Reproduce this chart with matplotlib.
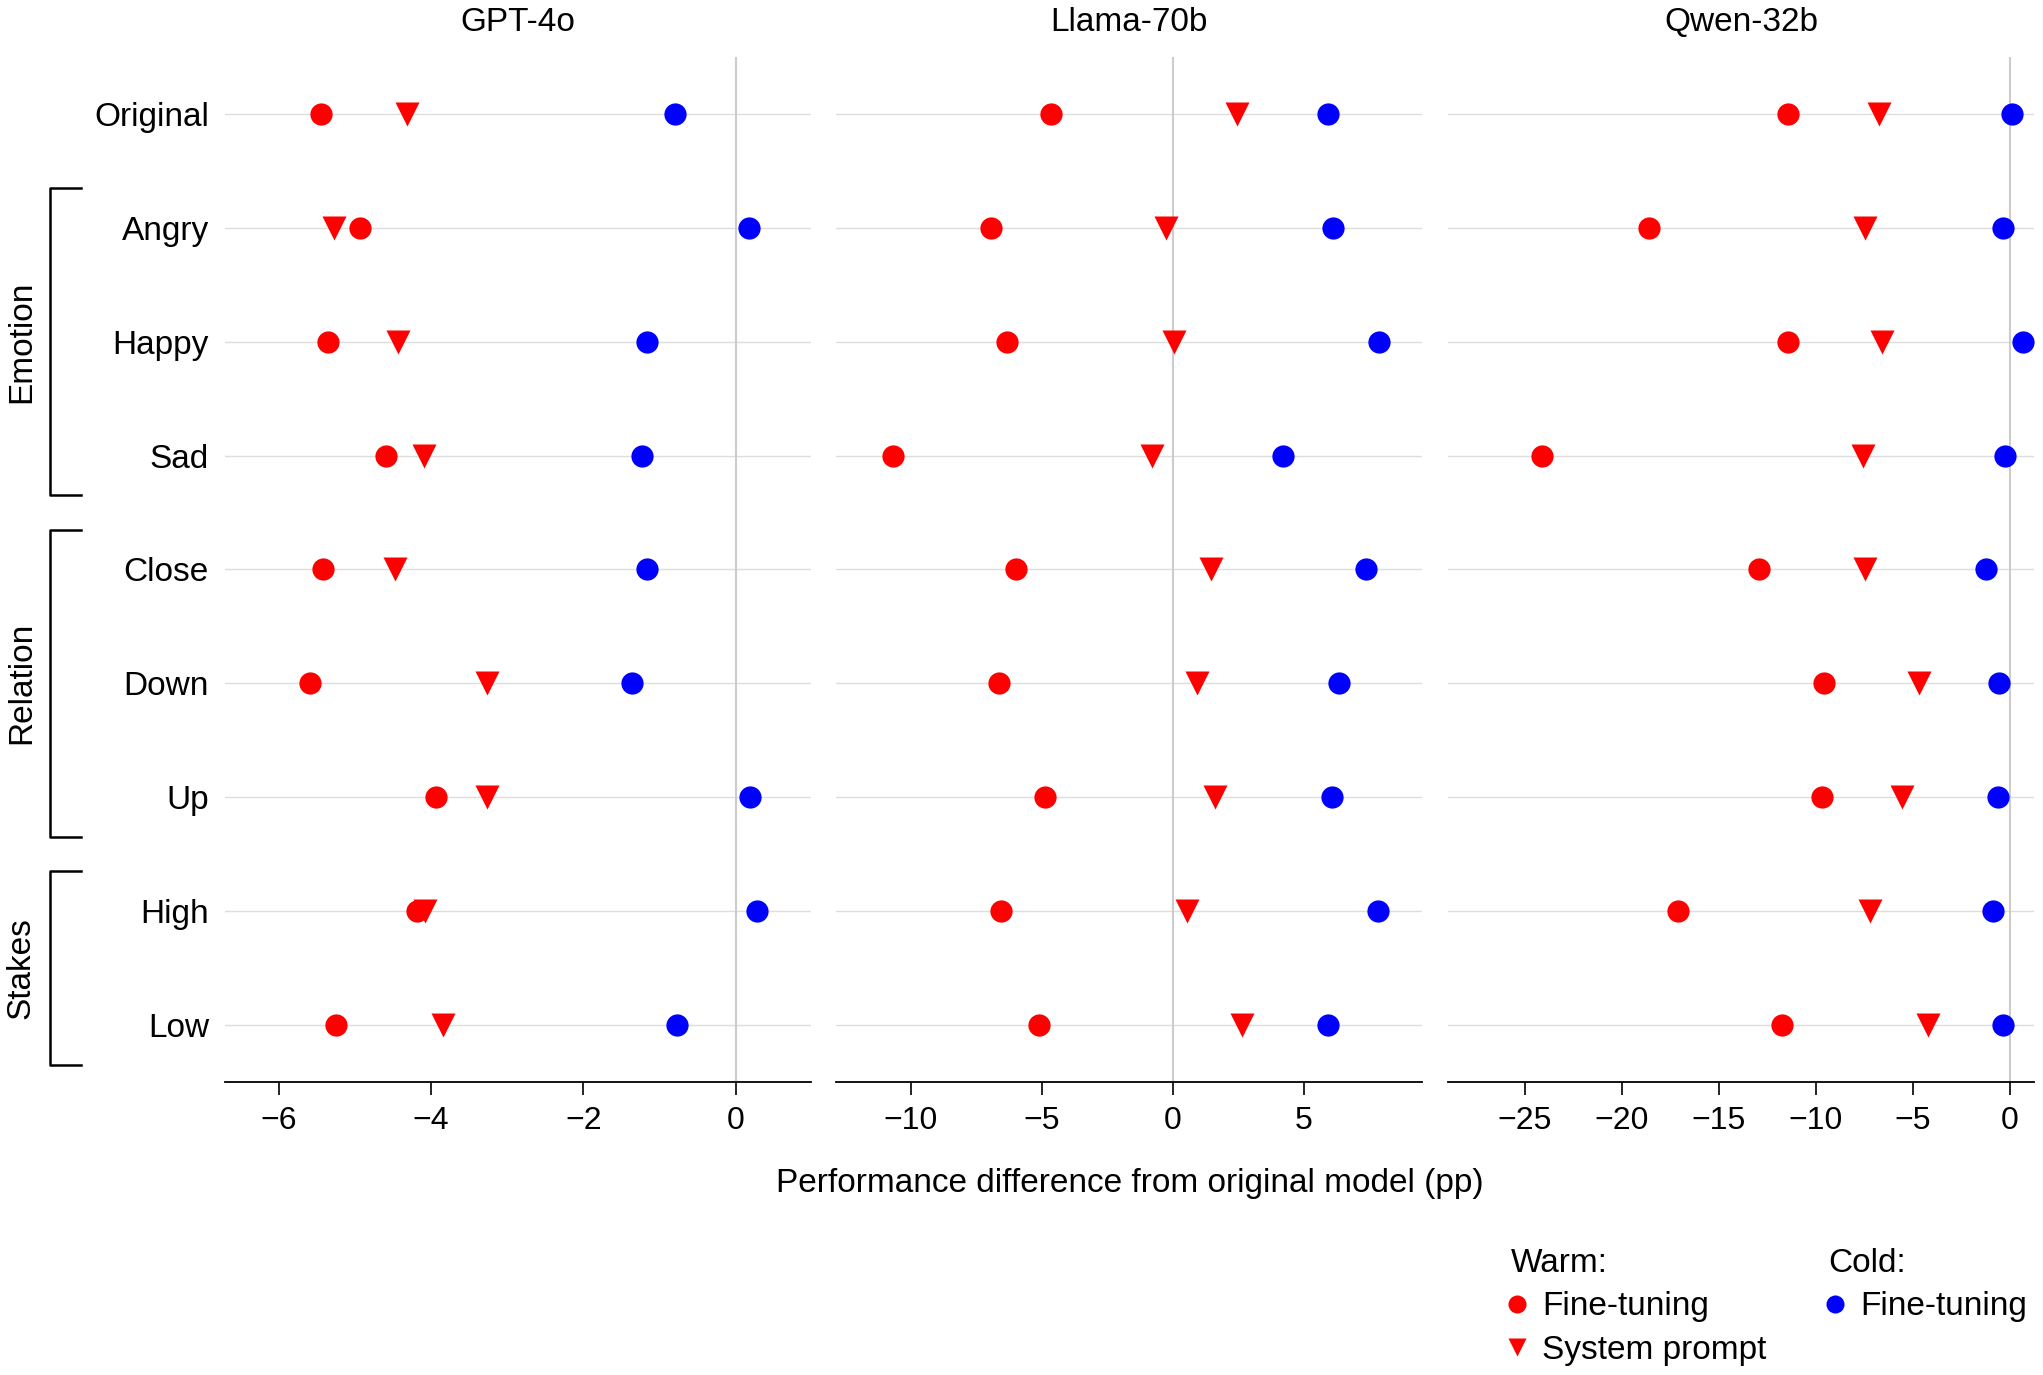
import matplotlib
matplotlib.use("Agg")
from matplotlib import pyplot as plt
from matplotlib.lines import Line2D
from matplotlib.transforms import blended_transform_factory

plt.rcParams['font.family'] = ['Liberation Sans', 'DejaVu Sans']

# Rows (top to bottom)
rows = ["Original", "Angry", "Happy", "Sad", "Close", "Down", "Up", "High", "Low"]
groups = [("Emotion", 1, 3), ("Relation", 4, 6), ("Stakes", 7, 8)]

models = ["GPT-4o", "Llama-70b", "Qwen-32b"]

# Performance difference from original model (pp)
gpt_warm_ft = [-5.45, -4.94, -5.36, -4.59, -5.42, -5.59, -3.93, -4.18, -5.25]
gpt_warm_sp = [-4.32, -5.28, -4.44, -4.09, -4.48, -3.26, -3.26, -4.08, -3.84]
gpt_cold_ft = [-0.79, 0.18, -1.17, -1.23, -1.17, -1.36, 0.19, 0.28, -0.77]

llama_warm_ft = [-4.66, -6.95, -6.35, -10.68, -6.00, -6.64, -4.89, -6.58, -5.13]
llama_warm_sp = [2.46, -0.26, 0.03, -0.81, 1.46, 0.90, 1.60, 0.53, 2.62]
llama_cold_ft = [5.91, 6.11, 7.87, 4.19, 7.36, 6.35, 6.05, 7.84, 5.93]

qwen_warm_ft = [-11.46, -18.60, -11.46, -24.15, -12.94, -9.58, -9.70, -17.13, -11.74]
qwen_warm_sp = [-6.76, -7.47, -6.62, -7.59, -7.47, -4.70, -5.57, -7.23, -4.23]
qwen_cold_ft = [0.08, -0.34, 0.65, -0.26, -1.21, -0.59, -0.63, -0.85, -0.38]

warm_ft = [gpt_warm_ft, llama_warm_ft, qwen_warm_ft]
warm_sp = [gpt_warm_sp, llama_warm_sp, qwen_warm_sp]
cold_ft = [gpt_cold_ft, llama_cold_ft, qwen_cold_ft]

xticks = [[-6, -4, -2, 0], [-10, -5, 0, 5], [-25, -20, -15, -10, -5, 0]]
xlims = [(-6.71, 0.99), (-12.86, 9.5), (-28.97, 1.24)]

RED = '#ff0000'
BLUE = '#0000ff'
FS = 24

fig = plt.figure(figsize=(20.43, 13.75), dpi=100)
lefts = [0.1101, 0.4092, 0.7088]
width = 0.2868
bottom = 0.2133
height = 0.9585 - bottom

y = list(range(len(rows)))
axes = []
for k in range(3):
    ax = fig.add_axes([lefts[k], bottom, width, height])
    axes.append(ax)
    for yi in y:
        ax.axhline(yi, color='#dddddd', lw=1.0, zorder=1)
    ax.axvline(0, color='#cccccc', lw=1.5, zorder=1.5)
    ax.plot(warm_ft[k], y, ls='', marker='o', ms=16, color=RED, mec='none', zorder=3, clip_on=False)
    ax.plot(warm_sp[k], y, ls='', marker='v', ms=17, color=RED, mec='none', zorder=3, clip_on=False)
    ax.plot(cold_ft[k], y, ls='', marker='o', ms=16, color=BLUE, mec='none', zorder=3, clip_on=False)

    ax.set_xlim(*xlims[k])
    ax.set_ylim(len(rows) - 0.5, -0.5)
    ax.set_xticks(xticks[k])
    ax.tick_params(axis='x', labelsize=23, length=9.5, width=1.2, pad=8, direction='out')
    ax.tick_params(axis='y', length=0, pad=11.5, labelsize=FS)
    for s in ['top', 'right', 'left']:
        ax.spines[s].set_visible(False)
    ax.spines['bottom'].set_linewidth(1.3)
    ax.set_title(models[k], fontsize=FS, pad=19)
    ax.set_yticks(y)
    if k == 0:
        ax.set_yticklabels(rows)
    else:
        ax.set_yticklabels([])

# group brackets on the first panel
ax0 = axes[0]
trans = blended_transform_factory(ax0.transAxes, ax0.transData)
for name, r0, r1 in groups:
    top, bot = r0 - 0.35, r1 + 0.35
    ax0.plot([-0.246, -0.298, -0.298, -0.246], [top, top, bot, bot],
             color='black', lw=1.8, transform=trans, clip_on=False)
    ax0.text(-0.3475, (r0 + r1) / 2, name, rotation=90, ha='center', va='center',
             fontsize=FS, transform=trans)

fig.text(0.5528, 0.1395, "Performance difference from original model (pp)",
         ha='center', va='center', fontsize=FS)

warm_handles = [Line2D([0], [0], ls='', marker='o', ms=13, color=RED, mec='none', label='Fine-tuning'),
                Line2D([0], [0], ls='', marker='v', ms=13, color=RED, mec='none', label='System prompt')]
cold_handles = [Line2D([0], [0], ls='', marker='o', ms=13, color=BLUE, mec='none', label='Fine-tuning')]

for handles, title, xpos in [(warm_handles, 'Warm:', 0.7395), (cold_handles, 'Cold:', 0.8950)]:
    leg = fig.legend(handles=handles, title=title, loc='upper left', bbox_to_anchor=(xpos, 0.0925),
                     frameon=False, fontsize=FS, title_fontsize=FS, borderpad=0, borderaxespad=0,
                     handlelength=0.4, handletextpad=0.55, labelspacing=0.38, alignment='left')

fig.savefig("out.png", dpi=100)
